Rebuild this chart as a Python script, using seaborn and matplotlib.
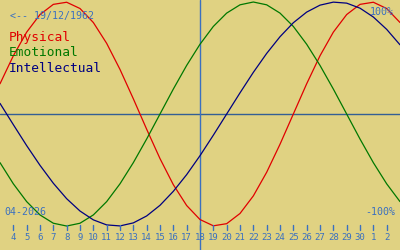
import matplotlib
matplotlib.use("Agg")
import matplotlib.pyplot as plt
import seaborn as sns
import pandas as pd

days = list(range(3, 34))
day_labels = [str(d) if d <= 30 else str(d - 30) for d in days]

physical = [0.270, 0.520, 0.731, 0.888, 0.979, 0.998, 0.942, 0.817, 0.631, 0.398,
            0.136, -0.136, -0.398, -0.631, -0.817, -0.942, -0.998, -0.979, -0.888, -0.731,
            -0.520, -0.270, 0.0, 0.270, 0.520, 0.731, 0.888, 0.979, 0.998, 0.942, 0.817]
emotional = [-0.434, -0.623, -0.782, -0.901, -0.975, -1.0, -0.975, -0.901, -0.782, -0.623,
             -0.434, -0.223, 0.0, 0.223, 0.434, 0.623, 0.782, 0.901, 0.975, 1.0,
             0.975, 0.901, 0.782, 0.623, 0.434, 0.223, 0.0, -0.223, -0.434, -0.623, -0.782]
intellectual = [0.095, -0.095, -0.282, -0.458, -0.618, -0.756, -0.866, -0.945, -0.990, -0.999,
                -0.972, -0.910, -0.815, -0.690, -0.541, -0.372, -0.189, 0.0, 0.189, 0.372,
                0.541, 0.690, 0.815, 0.910, 0.972, 0.999, 0.990, 0.945, 0.866, 0.756, 0.618]

today = 18
birth_text = "<-- 19/12/1962"
month_text = "04-2026"
series_names = ["Physical", "Emotional", "Intellectual"]
series_colors = ["#e00000", "#007800", "#000080"]

BG = "#e0d282"
AXC = "#3a70c0"
HLC = "#335f95"

df = pd.DataFrame({"day": days * 3,
                   "value": physical + emotional + intellectual,
                   "series": sum([[n] * len(days) for n in series_names], [])})

sns.set_theme(style="white")
plt.rcParams['font.family'] = ['DejaVu Sans Mono', 'DejaVu Sans']

fig = plt.figure(figsize=(4, 2.5), dpi=100)
fig.patch.set_facecolor(BG)
ax = fig.add_axes([0, 0, 1, 1])
ax.set_facecolor(BG)

ax.axhline(0, color=HLC, lw=1.0, zorder=1)
ax.axvline(today, color=AXC, lw=1.0, zorder=1)

sns.lineplot(data=df, x="day", y="value", hue="series", palette=series_colors,
             hue_order=series_names, lw=0.9, legend=False, ax=ax, zorder=2)

ax.set_xlim(3, 33)
ax.set_ylim(-1.214, 1.018)
ax.set_xlabel("")
ax.set_ylabel("")
ax.set_xticks([])
ax.set_yticks([])
for s in ax.spines.values():
    s.set_visible(False)

# tick marks & labels (in axes-fraction y)
trans = ax.get_xaxis_transform()
for d, lab in zip(days, day_labels):
    if d == 3 or d == 33:
        continue
    ax.plot([d, d], [1 - 225 / 250, 1 - 230 / 250], color=AXC, lw=1.0, transform=trans,
            clip_on=False)
    ax.text(d, 1 - 238 / 250, lab, color=AXC, fontsize=6.5, ha="center", va="center",
            transform=trans)

ax.text(10 / 400, 1 - 16 / 250, birth_text, color=AXC, fontsize=7.2, ha="left", va="center",
        transform=ax.transAxes)
for i, (n, c) in enumerate(zip(series_names, series_colors)):
    ax.text(9 / 400, 1 - (38 + 15 * i) / 250, n, color=c, fontsize=9.3, ha="left",
            va="center", transform=ax.transAxes)

ax.text(394 / 400, 1 - 12 / 250, "100%", color=AXC, fontsize=7.2, ha="right", va="center",
        transform=ax.transAxes)
ax.text(395 / 400, 1 - 212 / 250, "-100%", color=AXC, fontsize=7.2, ha="right", va="center",
        transform=ax.transAxes)
ax.text(4 / 400, 1 - 212 / 250, month_text, color=AXC, fontsize=7.2, ha="left", va="center",
        transform=ax.transAxes)

fig.savefig("out.png", dpi=100, facecolor=BG)
